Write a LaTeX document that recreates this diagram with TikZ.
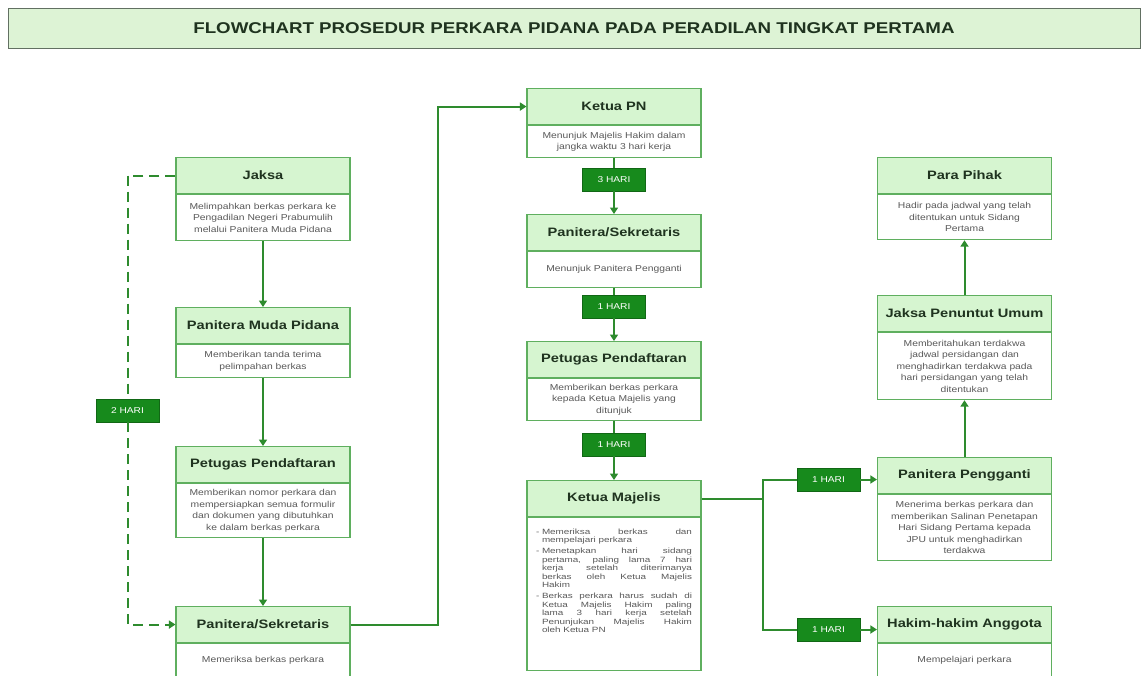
\documentclass[tikz,border=0pt]{standalone}
\usepackage{fontspec}
\setmainfont{Liberation Sans}
\newfontfamily\flowfont[FakeStretch=1.2]{Liberation Sans}
\newfontfamily\listfont[FakeStretch=1.3]{Liberation Sans}
\usepackage{tikz}
\usetikzlibrary{arrows.meta,positioning,calc}
\definecolor{PdGreen}{HTML}{2E8B2E}
\definecolor{PdLight}{HTML}{D6F5D0}
\definecolor{PdEdge}{HTML}{5FAF5F}
\definecolor{PdTag}{HTML}{178A1C}
\definecolor{PdTitle}{HTML}{DDF3D5}
\definecolor{PdDark}{HTML}{1F331F}
\newcommand{\kmitem}[1]{\par\noindent\hangindent=6pt\hangafter=1\makebox[6pt][l]{-}#1}
\tikzset{
  titlebar/.style={draw=PdDark!70,line width=1pt,fill=PdTitle,minimum width=1132pt,minimum height=40pt,font=\flowfont\bfseries\fontsize{15.6}{17}\selectfont,text=PdDark},
  headbox/.style={draw=PdEdge,line width=1.1pt,fill=PdLight,anchor=north,minimum width=174pt,minimum height=36pt,inner sep=2pt,font=\flowfont\bfseries\fontsize{12.2}{14}\selectfont,text=PdDark},
  bodybox/.style={draw=PdEdge,line width=1.1pt,fill=white,text width=162pt,inner xsep=6pt,inner ysep=3pt,align=center,font=\flowfont\fontsize{8.6}{11.5}\selectfont,text=black!65},
  daytag/.style={draw=PdTag!75!black,fill=PdTag,text=white,minimum width=63pt,minimum height=23pt,inner sep=1pt,font=\flowfont\fontsize{8.5}{9}\selectfont},
  flowline/.style={draw=PdGreen,line width=2pt},
  flowarrow/.style={flowline,-{Triangle[length=6.5pt,width=8pt]}},
  waitline/.style={flowline,dash pattern=on 10pt off 6pt}
}
\begin{document}
\begin{tikzpicture}[x=1pt,y=-1pt]
\clip (0,0) rectangle (1143,675);
\node[titlebar] (title) at (574,28) {FLOWCHART PROSEDUR PERKARA PIDANA PADA PERADILAN TINGKAT PERTAMA};
% kolom kiri
\node[headbox] (jaksa) at (263,157) {Jaksa};
\node[bodybox,below=0pt of jaksa,minimum height=46pt] (jaksab) {Melimpahkan berkas perkara ke\\Pengadilan Negeri Prabumulih\\melalui Panitera Muda Pidana};
\node[headbox] (pmp) at (263,307) {Panitera Muda Pidana};
\node[bodybox,below=0pt of pmp,minimum height=33pt] (pmpb) {Memberikan tanda terima\\pelimpahan berkas};
\node[headbox] (ptg) at (263,446) {Petugas Pendaftaran};
\node[bodybox,below=0pt of ptg,minimum height=54pt] (ptgb) {Memberikan nomor perkara dan\\mempersiapkan semua formulir\\dan dokumen yang dibutuhkan\\ke dalam berkas perkara};
\node[headbox] (psk) at (263,606) {Panitera/Sekretaris};
\node[bodybox,below=0pt of psk,minimum height=34pt] (pskb) {Memeriksa berkas perkara};
\node[daytag] (hari2) at (127.5,410.5) {2 HARI};
% kolom tengah
\node[headbox] (kpn) at (614,88) {Ketua PN};
\node[bodybox,below=0pt of kpn,minimum height=32pt] (kpnb) {Menunjuk Majelis Hakim dalam\\jangka waktu 3 hari kerja};
\node[daytag] (hari3) at (614,179.5) {3 HARI};
\node[headbox] (psk2) at (614,214) {Panitera/Sekretaris};
\node[bodybox,below=0pt of psk2,minimum height=36pt] (psk2b) {Menunjuk Panitera Pengganti};
\node[daytag] (hari1a) at (614,306.5) {1 HARI};
\node[headbox] (ptg2) at (614,341) {Petugas Pendaftaran};
\node[bodybox,below=0pt of ptg2,minimum height=42pt] (ptg2b) {Memberikan berkas perkara\\kepada Ketua Majelis yang\\ditunjuk};
\node[daytag] (hari1b) at (614,444.5) {1 HARI};
\node[headbox] (km) at (614,480) {Ketua Majelis};
\node[bodybox,below=0pt of km,align=justify,inner xsep=9pt,text width=156pt,inner ysep=8pt,font=\listfont\fontsize{7.6}{8.6}\selectfont] (kmb) {%
\kmitem{Memeriksa berkas dan\linebreak mempelajari perkara}\par\vspace{2pt}
\kmitem{Menetapkan hari sidang\linebreak pertama, paling lama 7 hari\linebreak kerja setelah diterimanya\linebreak berkas oleh Ketua Majelis\linebreak Hakim}\par\vspace{2pt}
\kmitem{Berkas perkara harus sudah di\linebreak Ketua Majelis Hakim paling\linebreak lama 3 hari kerja setelah\linebreak Penunjukan Majelis Hakim\linebreak oleh Ketua PN}\par\vspace*{30pt}};
% kolom kanan
\node[headbox] (para) at (964.5,157) {Para Pihak};
\node[bodybox,below=0pt of para,minimum height=45pt] (parab) {Hadir pada jadwal yang telah\\ditentukan untuk Sidang\\Pertama};
\node[headbox] (jpu) at (964.5,295) {Jaksa Penuntut Umum};
\node[bodybox,below=0pt of jpu,minimum height=67pt] (jpub) {Memberitahukan terdakwa\\jadwal persidangan dan\\menghadirkan terdakwa pada\\hari persidangan yang telah\\ditentukan};
\node[headbox] (pgg) at (964.5,457) {Panitera Pengganti};
\node[bodybox,below=0pt of pgg,minimum height=66pt] (pggb) {Menerima berkas perkara dan\\memberikan Salinan Penetapan\\Hari Sidang Pertama kepada\\JPU untuk menghadirkan\\terdakwa};
\node[headbox] (hha) at (964.5,606) {Hakim-hakim Anggota};
\node[bodybox,below=0pt of hha,minimum height=34pt] (hhab) {Mempelajari perkara};
\node[daytag] (hari1c) at (828.5,479.5) {1 HARI};
\node[daytag] (hari1d) at (828.5,629.5) {1 HARI};
% alur
\draw[flowarrow] (jaksab) -- (pmp);
\draw[flowarrow] (pmpb) -- (ptg);
\draw[flowarrow] (ptgb) -- (psk);
\draw[waitline] (jaksa.west) -| (hari2.north);
\draw[waitline,-{Triangle[length=6.5pt,width=8pt]}] (hari2.south) |- (psk.west);
\draw[flowarrow] (psk.east) -- ++(87,0) |- (kpn.west);
\draw[flowline] (kpnb) -- (hari3);
\draw[flowarrow] (hari3) -- (psk2);
\draw[flowline] (psk2b) -- (hari1a);
\draw[flowarrow] (hari1a) -- (ptg2);
\draw[flowline] (ptg2b) -- (hari1b);
\draw[flowarrow] (hari1b) -- (km);
\coordinate (split) at ($(km.east)+(61,0)$);
\draw[flowline] (km.east) -- (split);
\draw[flowline] (split) |- (hari1c.west);
\draw[flowline] (split) |- (hari1d.west);
\draw[flowarrow] (hari1c.east) -- (hari1c.east -| pgg.west);
\draw[flowarrow] (hari1d.east) -- (hari1d.east -| hha.west);
\draw[flowarrow] (pgg) -- (jpub);
\draw[flowarrow] (jpu) -- (parab);
\end{tikzpicture}
\end{document}
